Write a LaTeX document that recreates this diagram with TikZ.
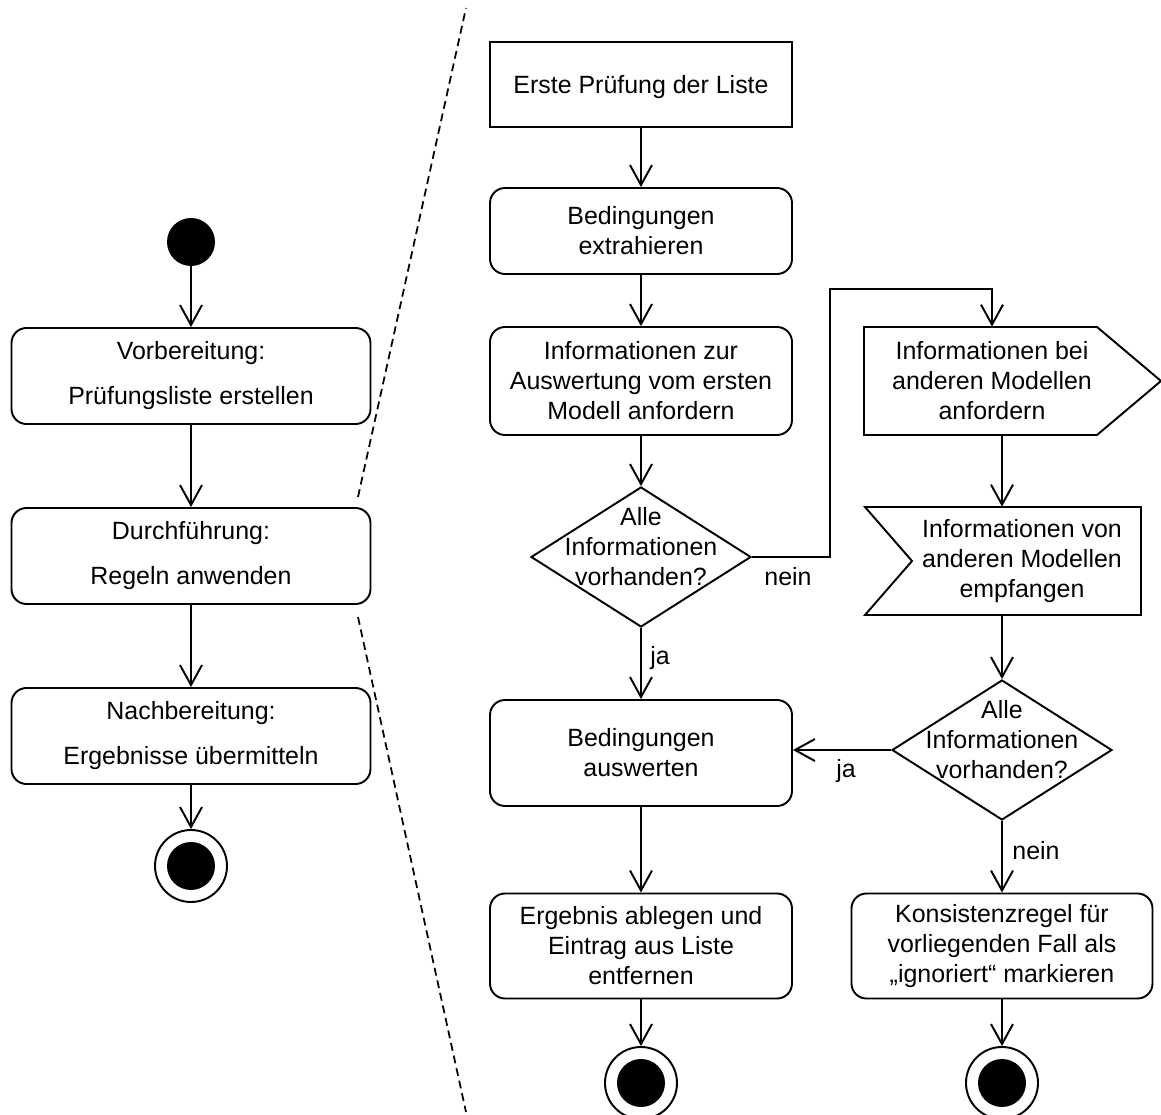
\documentclass[tikz,border=0pt]{standalone}
\usepackage{fontspec}
\setmainfont{Liberation Sans}
\usetikzlibrary{arrows.meta,shapes.geometric,calc}

\begin{document}
\begin{tikzpicture}[x=0.02cm,y=-0.02cm,
  ln/.style={line width=1.1pt},
  flow/.style={ln,-{Straight Barb[length=0.4cm,width=0.44cm]}},
  txt/.style={font=\fontsize{14.2pt}{17.07pt}\selectfont,align=center,inner sep=0pt},
  wide/.style={font=\fontsize{14.2pt}{25.6pt}\selectfont},
  act/.style n args={2}{txt,draw,ln,rounded corners=0.3cm,
    minimum width=#1*0.02cm,minimum height=#2*0.02cm},
  plainbox/.style n args={2}{txt,draw,ln,
    minimum width=#1*0.02cm,minimum height=#2*0.02cm},
  decision/.style={diamond,draw,ln,inner sep=0pt,
    minimum width=220*0.02cm,minimum height=140*0.02cm},
  startnode/.style={circle,fill=black,inner sep=0pt,minimum size=48*0.02cm},
  endnode/.style={circle,draw,ln,inner sep=0pt,minimum size=72*0.02cm,
    path picture={\fill[black] (path picture bounding box.center) circle (0.48cm);}},
  sep/.style={line width=1pt,dash pattern=on 4.5pt off 2.8pt}
]
\useasboundingbox (0,0) rectangle (1161,1115);

% overview column
\node[startnode] (s0) at (191,242) {};
\node[act={359}{96},wide] (vor) at (191,376) {Vorbereitung:\\Prüfungsliste erstellen};
\node[act={359}{96},wide] (durch) at (191,556) {Durchführung:\\Regeln anwenden};
\node[act={359}{96},wide] (nach) at (191,736) {Nachbereitung:\\Ergebnisse übermitteln};
\node[endnode] (e0) at (191,866) {};
\draw[flow] (s0) -- (vor);
\draw[flow] (vor) -- (durch);
\draw[flow] (durch) -- (nach);
\draw[flow] (nach) -- (e0);

% zoom lines
\coordinate (u1) at (358,497);
\coordinate (u2) at (466,8);
\coordinate (l1) at (358,617);
\coordinate (l2) at (466,1112);
\draw[sep] (u1) -- (u2);
\draw[sep] (l1) -- (l2);

% detailed flow
\node[plainbox={302}{85},text depth=0pt] (erste) at (641,84.5) {Erste Prüfung der Liste};
\node[act={302}{86}] (extr) at (641,231) {Bedingungen\\extrahieren};
\node[act={302}{108}] (anf) at (641,381) {Informationen zur\\Auswertung vom ersten\\Modell anfordern};
\node[decision] (d1) at (641,557) {};
\node[txt] (d1t) at (641,547) {Alle\\Informationen\\vorhanden?};
\node[act={302}{106}] (ausw) at (641,753) {Bedingungen\\auswerten};
\node[act={302}{105}] (abl) at (641,946) {Ergebnis ablegen und\\Eintrag aus Liste\\entfernen};
\node[endnode] (e1) at (641,1083) {};

\draw[flow] (erste) -- (extr);
\draw[flow] (extr) -- (anf);
\draw[flow] (anf) -- (d1.north);
\draw[flow] (d1.south) -- (ausw);
\draw[flow] (ausw) -- (abl);
\draw[flow] (abl) -- (e1);

% signals to and from the other models
\coordinate (colR) at (1002,0);
\node[txt,minimum width=258*0.02cm,minimum height=108*0.02cm] (send) at (992,381)
  {Informationen bei\\anderen Modellen\\anfordern};
\draw[ln] (864,327) -- (1097,327) -- (1161,381) -- (1097,435) -- (864,435) -- cycle;
\node[txt,minimum height=108*0.02cm] (recv) at (1022,561)
  {Informationen von\\anderen Modellen\\empfangen};
\draw[ln] (865,507) -- (1141,507) -- (1141,615) -- (865,615) -- (912,561) -- cycle;
\node[decision] (d2) at (1002,750) {};
\node[txt] (d2t) at (1002,740) {Alle\\Informationen\\vorhanden?};
\node[act={301}{105}] (kons) at (1002,946) {Konsistenzregel für\\vorliegenden Fall als\\„ignoriert“ markieren};
\node[endnode] (e2) at (1002,1083) {};

\draw[flow] (d1.east) -- ++(78,0) |- ($(send.north)+(0,-38)$) -- (send.north);
\draw[flow] (send.south -| colR) -- (recv.north -| colR);
\draw[flow] (recv.south -| colR) -- (d2.north);
\draw[flow] (d2.west) -- (d2.west -| ausw.east);
\draw[flow] (d2.south) -- (kons);
\draw[flow] (kons) -- (e2);

% guard labels
\node[txt] (n1) at (788,577) {nein};
\node[txt] (j1) at (660,658) {ja};
\node[txt] (j2) at (846,771) {ja};
\node[txt] (n2) at (1036,851) {nein};
\end{tikzpicture}
\end{document}
